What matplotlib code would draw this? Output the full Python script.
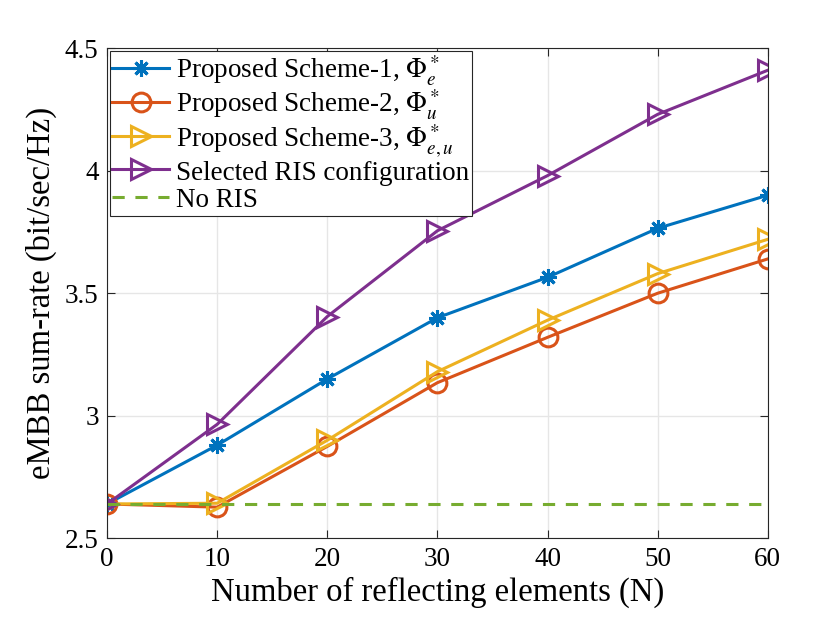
import matplotlib
matplotlib.use("Agg")
import matplotlib.pyplot as plt

plt.rcParams['font.family'] = ['Liberation Serif', 'DejaVu Serif']
plt.rcParams['mathtext.fontset'] = 'stix'

# datos
n_elem = [0, 10, 20, 30, 40, 50, 60]
esquema_1 = [2.64, 2.88, 3.15, 3.40, 3.565, 3.765, 3.90]
esquema_2 = [2.64, 2.627, 2.875, 3.135, 3.32, 3.50, 3.64]
esquema_3 = [2.64, 2.643, 2.90, 3.18, 3.39, 3.58, 3.72]
ris_sel = [2.64, 2.965, 3.405, 3.755, 3.98, 4.23, 4.41]
sin_ris = [2.64] * len(n_elem)

fig = plt.figure(figsize=(8.3, 6.18), dpi=100)
ax = fig.add_axes([0.129, 0.129, 0.796, 0.793])

ax.plot(n_elem, esquema_1, '-', marker=(8, 2, 0), color='#0072BD', lw=2.2,
        ms=12, mew=2.2, label=r'Proposed Scheme-1, $\Phi_e^*$')
ax.plot(n_elem, esquema_2, '-o', color='#D95319', lw=2.2, ms=13.5, mew=2.2,
        mfc='none', label=r'Proposed Scheme-2, $\Phi_u^*$')
ax.plot(n_elem, esquema_3, '->', color='#EDB120', lw=2.2, ms=15, mew=2.2,
        mfc='none', label=r'Proposed Scheme-3, $\Phi_{e,u}^*$')
ax.plot(n_elem, ris_sel, '->', color='#7E2F8E', lw=2.2, ms=15, mew=2.2,
        mfc='none', label='Selected RIS configuration')
ax.plot(n_elem, sin_ris, '--', color='#77AC30', lw=2.2, dashes=(4, 3.5),
        label='No RIS')

ax.set_xlim(0, 60)
ax.set_ylim(2.5, 4.5)
ax.set_xticks([0, 10, 20, 30, 40, 50, 60])
ax.set_yticks([2.5, 3, 3.5, 4, 4.5])
ax.set_yticklabels(['2.5', '3', '3.5', '4', '4.5'])
ax.grid(True, color='#e6e6e6', lw=1)
ax.set_axisbelow(True)
ax.tick_params(direction='in', top=True, right=True, labelsize=19.5,
               length=6, width=0.8, color='#262626', pad=6)
for s in ax.spines.values():
    s.set_linewidth(0.8)
    s.set_color('#262626')

ax.set_xlabel('Number of reflecting elements (N)', fontsize=23.5, labelpad=4)
ax.set_ylabel('eMBB sum-rate (bit/sec/Hz)', fontsize=23.5, labelpad=6)

leg = ax.legend(loc='upper left', fontsize=19.5, fancybox=False, framealpha=1,
                edgecolor='#262626', borderpad=0.1, labelspacing=0.0,
                handlelength=2.1, handleheight=1.0, handletextpad=0.25,
                borderaxespad=0.1)
leg.get_frame().set_linewidth(0.8)

fig.savefig('out.png', dpi=100)
